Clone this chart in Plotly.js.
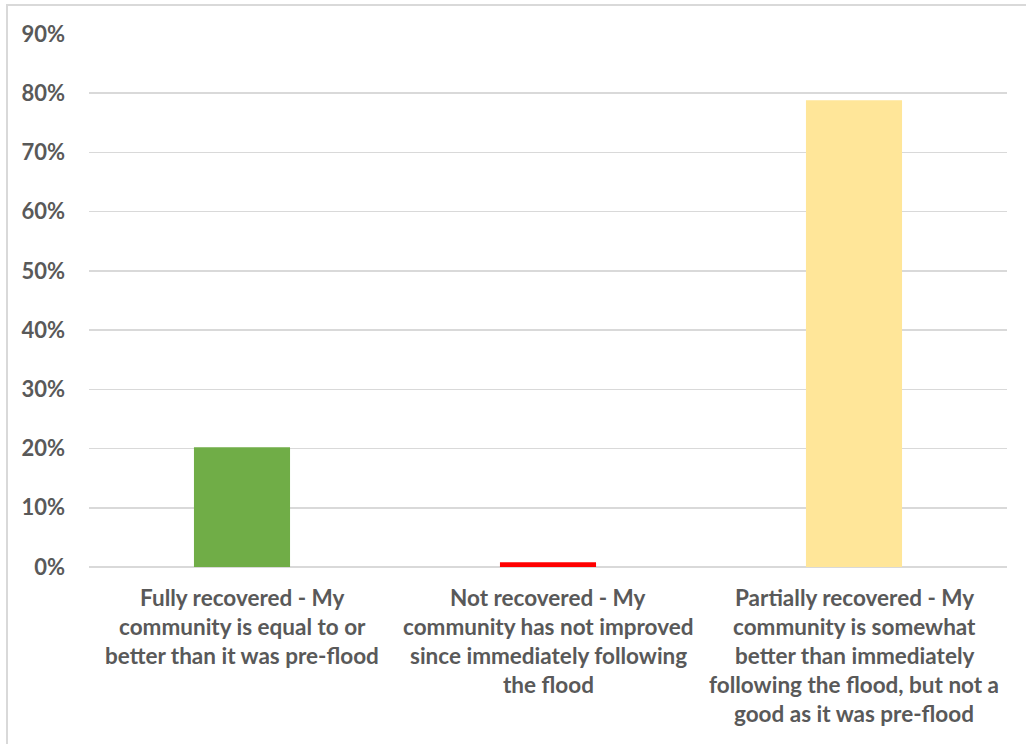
<!DOCTYPE html>
<html>
<head>
<meta charset="utf-8">
<script src="https://cdn.plot.ly/plotly-3.0.1.min.js"></script>
<style>
  html, body { margin: 0; padding: 0; background: #fff; }
  #chart { width: 1026px; height: 744px; position: relative; }
  #frame { position: absolute; left: 5.5px; top: 3.5px; width: 1100px; height: 800px;
           border-left: 2px solid #d9d9d9; border-top: 2px solid #d9d9d9; pointer-events: none; }
  #wrap { position: relative; width: 1026px; height: 744px; overflow: hidden; }
</style>
</head>
<body>
<div id="wrap">
  <div id="chart"></div>
  <div id="frame"></div>
</div>
<script>
// Data
const categories = [
  "Fully recovered - My community is equal to or better than it was pre-flood",
  "Not recovered - My community has not improved since immediately following the flood",
  "Partially recovered - My community is somewhat better than immediately following the flood, but not a good as it was pre-flood"
];
const labelLines = [
  ["Fully recovered - My", "community is equal to or", "better than it was pre-flood"],
  ["Not recovered - My", "community has not improved", "since immediately following", "the flood"],
  ["Partially recovered - My", "community is somewhat", "better than immediately", "following the flood, but not a", "good as it was pre-flood"]
];
const values = [0.202, 0.008, 0.788];
const barColors = ["#70AD47", "#FF0000", "#FFE699"];
const yTickVals = [0, 0.1, 0.2, 0.3, 0.4, 0.5, 0.6, 0.7, 0.8, 0.9];
const yTickText = ["0%", "10%", "20%", "30%", "40%", "50%", "60%", "70%", "80%", "90%"];

const FONT = "Lato, 'Open Sans', 'Liberation Sans', sans-serif";
const textColor = "#595959";

const annotations = [];
labelLines.forEach((lines, i) => {
  lines.forEach((ln, j) => {
    annotations.push({
      x: categories[i], y: 0, xref: "x", yref: "y",
      text: "<b>" + ln + "</b>", showarrow: false,
      xanchor: "center", yanchor: "middle",
      yshift: -(30 + j * 29.2),
      font: { family: FONT, size: 22.5, color: textColor }
    });
  });
});

const trace = {
  type: "bar",
  x: categories,
  y: values,
  marker: { color: barColors, line: { width: 0 } },
  hoverinfo: "none"
};

const layout = {
  width: 1026, height: 744,
  margin: { l: 89, r: 19, t: 33.5, b: 177.3, pad: 0 },
  paper_bgcolor: "#ffffff",
  plot_bgcolor: "#ffffff",
  showlegend: false,
  bargap: 0.686,
  font: { family: FONT, color: textColor },
  xaxis: {
    type: "category",
    showticklabels: false,
    showgrid: false, zeroline: false, showline: false, ticks: ""
  },
  yaxis: {
    range: [0, 0.9],
    tickvals: yTickVals,
    ticktext: yTickText.map(t => "<b>" + t + "</b>"),
    tickfont: { family: FONT, size: 22, color: textColor },
    showgrid: true, gridcolor: "#d9d9d9", gridwidth: 1.5,
    zeroline: true, zerolinecolor: "#d9d9d9", zerolinewidth: 1.5,
    showline: false, ticks: "", ticklabelstandoff: 23
  },
  annotations: annotations
};

Plotly.newPlot("chart", [trace], layout, { staticPlot: true, displayModeBar: false });
</script>
</body>
</html>
